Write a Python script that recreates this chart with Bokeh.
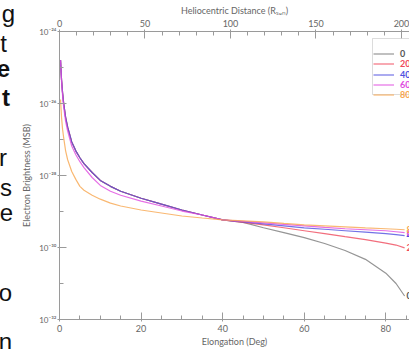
from bokeh.plotting import figure
from bokeh.layouts import row
from bokeh.models import (Range1d, LinearAxis, FixedTicker, CustomJSTickFormatter,
                          Legend, LegendItem, BoxAnnotation, ColumnDataSource, Div)
from bokeh.embed import file_html
from bokeh.resources import INLINE
from bokeh.core.properties import value

# ---------------- data ----------------
elong = [0.25, 0.5, 0.75, 1, 1.5, 2, 3, 4, 5, 6, 8, 10, 12.5, 15, 20, 25, 30, 35, 40,
         45, 50, 55, 60, 65, 70, 75, 80, 82.5, 84.6]
early_top = [1.60e-25, 4.55e-26, 2.0e-26, 1.06e-26, 4.13e-27, 2.2e-27, 8.55e-28, 4.84e-28,
             3.11e-28, 2.13e-28, 1.21e-28, 7.3e-29, 5.0e-29, 3.65e-29, 2.34e-29, 1.60e-29,
             1.10e-29, 8.0e-30, 5.85e-30]
b_0 = early_top + [5.0e-30, 3.53e-30, 2.58e-30, 1.88e-30, 1.29e-30, 8.28e-31, 4.69e-31,
                   1.94e-31, 1.0e-31, 4.5e-32]
b_20 = early_top + [5.0e-30, 4.27e-30, 3.53e-30, 2.92e-30, 2.42e-30, 2.0e-30, 1.66e-30,
                    1.33e-30, 1.17e-30, 0.98e-30]
b_40 = early_top + [5.16e-30, 4.54e-30, 4.01e-30, 3.53e-30, 3.21e-30, 2.92e-30, 2.66e-30,
                    2.42e-30, 2.27e-30, 2.13e-30]
b_60 = [1.60e-25, 4.0e-26, 1.66e-26, 8.3e-27, 3.2e-27, 1.71e-27, 6.6e-28, 3.76e-28,
        2.42e-28, 1.66e-28, 8.8e-29, 5.3e-29, 3.65e-29, 2.83e-29, 1.94e-29, 1.42e-29,
        1.03e-29, 8.0e-30, 5.85e-30, 5.32e-30, 4.84e-30, 4.40e-30, 4.01e-30, 3.64e-30,
        3.32e-30, 3.11e-30, 2.92e-30, 2.74e-30, 2.58e-30]
b_80 = [1.29e-26, 4.13e-27, 1.94e-27, 1.17e-27, 4.84e-28, 2.74e-28, 1.29e-28, 7.8e-29,
        5.0e-29, 3.88e-29, 2.83e-29, 2.2e-29, 1.71e-29, 1.42e-29, 1.10e-29, 9.1e-30,
        7.5e-30, 6.6e-30, 5.85e-30, 5.49e-30, 5.16e-30, 4.69e-30, 4.27e-30, 4.01e-30,
        3.76e-30, 3.53e-30, 3.32e-30, 3.21e-30, 3.11e-30]
series_names = ["0", "20", "40", "60", "80"]
series_vals = [b_0, b_20, b_40, b_60, b_80]
series_colors = ["#7a7a7a", "#ef4a5c", "#4f4fe0", "#e04ae0", "#f7a64f"]
label_colors = ["#555555", "#ef4a5c", "#4f4fe0", "#e04ae0", "#f7a64f"]

x_ticks = [0, 20, 40, 60, 80]
x_minor = [0, 5, 10, 15, 20, 25, 30, 35, 40, 45, 50, 55, 60, 65, 70, 75, 80, 85]
top_ticks = [0, 50, 100, 150, 200]
top_minor = [0, 10, 20, 30, 40, 50, 60, 70, 80, 90, 100, 110, 120, 130, 140, 150, 160,
             170, 180, 190, 200]
y_ticks = [1e-32, 1e-30, 1e-28, 1e-26, 1e-24]
y_minor = [1e-31, 1e-29, 1e-27, 1e-25]

# side-column text fragments (left edge of the cropped page)
side_letters = ["g", "t", "e", "t", "r", "s", "e", "o", "n"]
side_bold = [False, False, True, True, False, False, False, False, False]

AX = "#9a9a9a"
TXT = "#666666"
FONT = "Lato"
SIDE_W = 16

# ---------------- side strip with cut-off text of the neighbouring column ----------------
side_right = [15, 7, 10, 10, 7, 12, 13, 12, 12]
side_base = [22, 52, 77, 106, 166, 196, 221, 301, 350]
spans = []
for ch, b, xr, yb in zip(side_letters, side_bold, side_right, side_base):
    spans.append(
        '<span style="position:absolute;right:%dpx;top:%.1fpx;font-family:\'Liberation Sans\','
        'Arial,sans-serif;font-size:24px;line-height:24px;color:#111;font-weight:%s;">%s</span>'
        % (SIDE_W - xr, yb - 20.3, "bold" if b else "normal", ch))
side = Div(text='<div style="position:relative;width:%dpx;height:349px;overflow:hidden;'
                'margin:0;padding:0;">%s</div>' % (SIDE_W, "".join(spans)),
           width=SIDE_W, height=349, margin=0)

# ---------------- main chart ----------------
p = figure(width=409 - SIDE_W, height=349, x_range=Range1d(0, 85.8),
           y_range=Range1d(1e-32, 1e-24),
           y_axis_type="log", output_backend="svg", toolbar_location=None,
           min_border_left=59 - SIDE_W, min_border_right=0, min_border_top=31,
           min_border_bottom=26)
p.outline_line_color = None
p.xgrid.visible = False
p.ygrid.visible = False
p.background_fill_color = "white"
p.border_fill_color = "white"

p.extra_x_ranges = {"helio": Range1d(0, 204.7)}
top = LinearAxis(x_range_name="helio", axis_label="Heliocentric Distance (Rₛᵤₙ)")
top.ticker = FixedTicker(ticks=top_ticks, minor_ticks=top_minor)
p.add_layout(top, "above")

for ax in p.below:
    ax.ticker = FixedTicker(ticks=x_ticks, minor_ticks=x_minor)
    ax.axis_label = "Elongation (Deg)"
for ax in p.left:
    ax.ticker = FixedTicker(ticks=y_ticks, minor_ticks=y_minor)
    ax.axis_label = "Electron Brightness (MSB)"
    ax.formatter = CustomJSTickFormatter(code="""
        const sup = {"-":"\u207b","0":"\u2070","1":"\u00b9","2":"\u00b2","3":"\u00b3",
                     "4":"\u2074","5":"\u2075","6":"\u2076","7":"\u2077","8":"\u2078","9":"\u2079"};
        const e = Math.round(Math.log10(tick));
        return "10" + String(e).split("").map(c => sup[c]).join("");
    """)

for ax in list(p.below) + list(p.left) + list(p.above):
    ax.axis_line_color = AX
    ax.major_tick_line_color = AX
    ax.minor_tick_line_color = AX
    ax.major_tick_in = 7
    ax.major_tick_out = 2
    ax.minor_tick_in = 4
    ax.minor_tick_out = 0
    ax.major_label_text_color = TXT
    ax.axis_label_text_color = TXT
    ax.major_label_text_font = FONT
    ax.axis_label_text_font = FONT
    ax.axis_label_text_font_style = "normal"
    ax.major_label_text_font_size = "9px"
    ax.axis_label_text_font_size = "9px"
    ax.major_label_standoff = 3
    ax.axis_label_standoff = 1
for ax in p.left:
    ax.major_label_text_font_size = "8px"
    ax.major_label_standoff = 1
    ax.axis_label_standoff = 4

renderers = []
for name, vals, col in zip(series_names, series_vals, series_colors):
    r = p.line(elong, vals, line_color=col, line_width=1.2, line_alpha=0.8)
    renderers.append(r)

# end-of-curve labels (clipped by the page edge)
end_src = ColumnDataSource(dict(x=[elong[-1]] * len(series_names),
                                y=[v[-1] for v in series_vals],
                                t=series_names, c=label_colors))
p.text(x="x", y="y", text="t", text_color="c", source=end_src, x_offset=2,
       text_baseline="middle", text_font=value(FONT), text_font_size="9px",
       text_font_style="bold")

# legend frame
p.add_layout(BoxAnnotation(left=313, right=380, bottom=225, top=281,
                           left_units="screen", right_units="screen",
                           bottom_units="screen", top_units="screen",
                           fill_color="white", fill_alpha=1.0,
                           line_color="#8a8a8a", line_width=1))
# coloured legend rows
for i, (name, col, r) in enumerate(zip(series_names, label_colors, renderers)):
    lg = Legend(items=[LegendItem(label=name, renderers=[r])],
                location=(313, 259 - round(10.3 * i)), glyph_width=21, glyph_height=9,
                label_height=9, spacing=0, padding=1, margin=0, label_standoff=6,
                border_line_alpha=0.0, background_fill_alpha=0.0,
                label_text_font=FONT, label_text_font_size="9px",
                label_text_font_style="bold", label_text_color=col)
    p.add_layout(lg, "center")

layout = row(side, p, spacing=0)
open("out.html", "w").write(file_html(layout, INLINE))
